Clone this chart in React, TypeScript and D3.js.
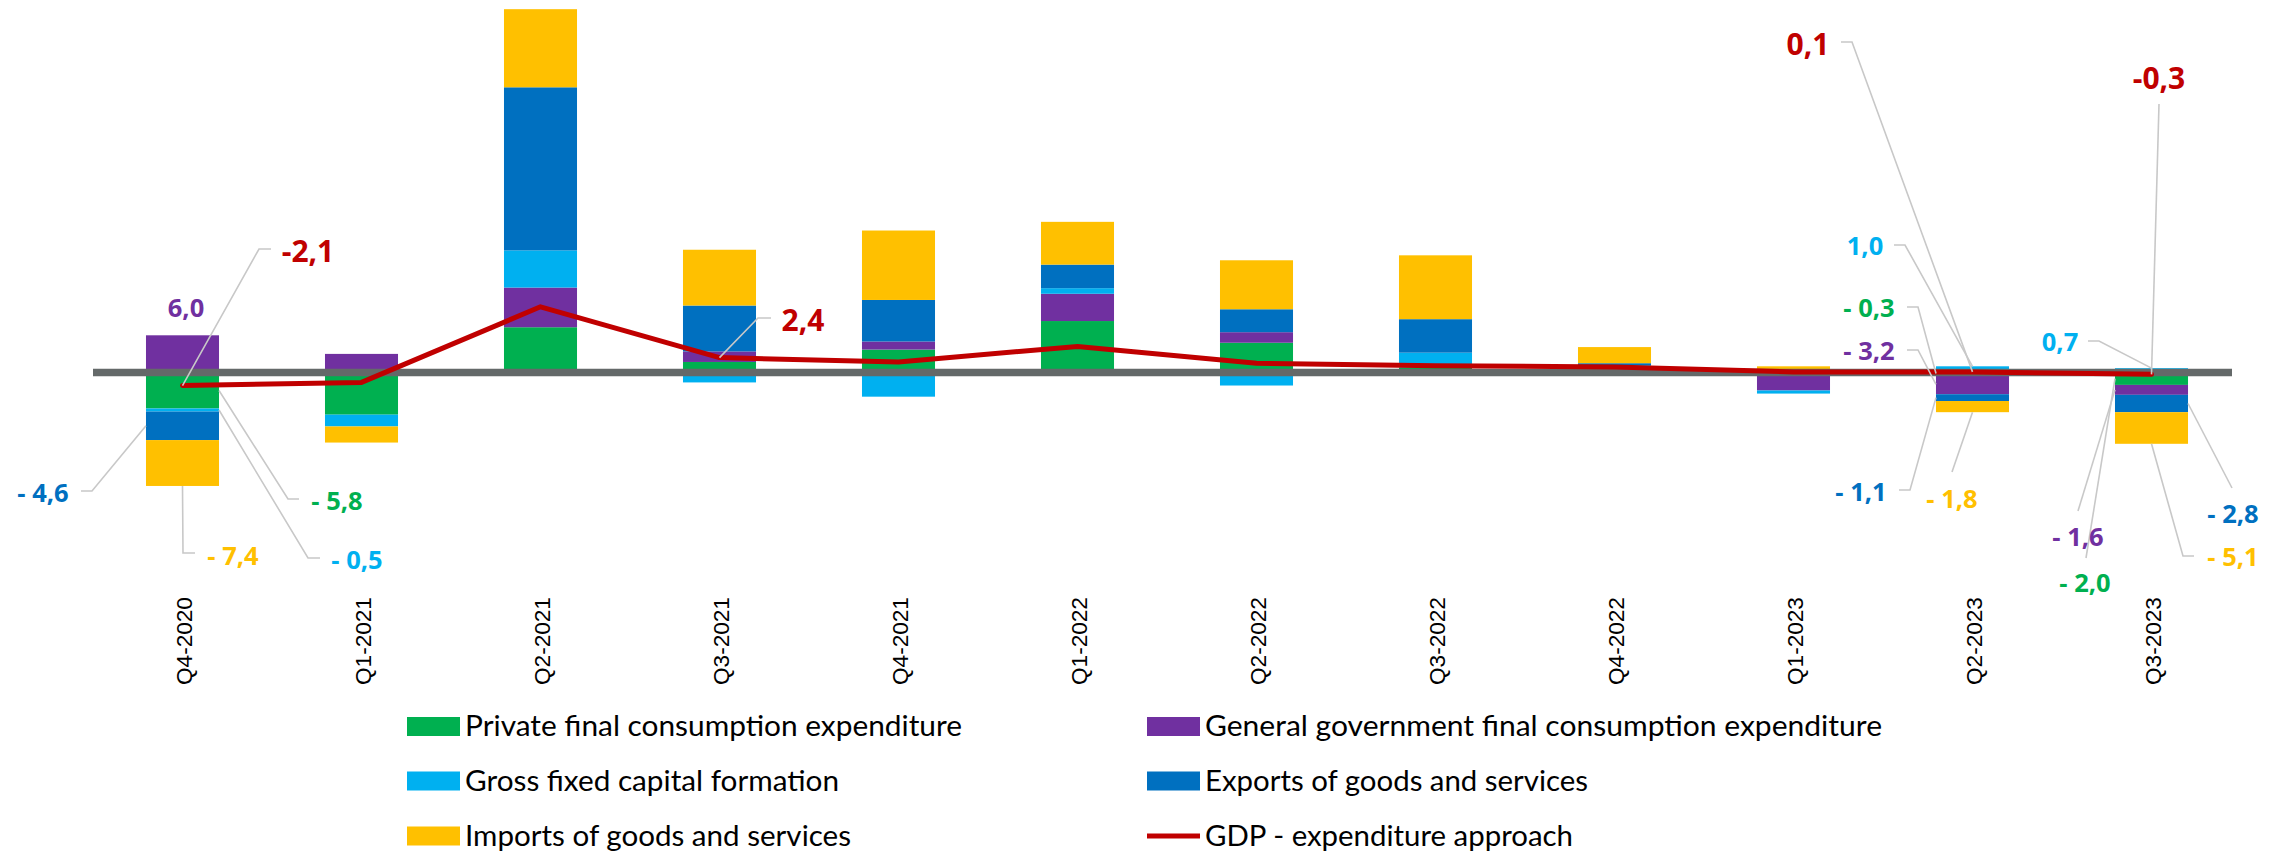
import * as d3 from 'd3'

const quarters = ['Q4-2020', 'Q1-2021', 'Q2-2021', 'Q3-2021', 'Q4-2021', 'Q1-2022', 'Q2-2022', 'Q3-2022', 'Q4-2022', 'Q1-2023', 'Q2-2023', 'Q3-2023']

// contributions
const privateConsumption = [-5.8, -6.8, 7.3, 1.7, 3.7, 8.3, 4.8, 0.8, 0.9, 0.0, -0.3, -2.0]
const governmentConsumption = [6.0, 3.0, 6.4, 1.7, 1.3, 4.4, 1.7, 0.0, 0.1, -2.9, -3.2, -1.6]
const capitalFormation = [-0.5, -1.9, 6.0, -1.6, -3.9, 0.9, -2.1, 2.4, 0.2, -0.5, 1.0, 0.7]
const exportsGS = [-4.6, 0.0, 26.3, 7.4, 6.7, 3.8, 3.7, 5.4, 0.3, 0.0, -1.1, -2.8]
const importsGS = [-7.4, -2.6, 12.6, 9.0, 11.2, 6.9, 7.9, 10.3, 2.6, 1.0, -1.8, -5.1]
const gdp = [-2.1, -1.6, 10.6, 2.4, 1.7, 4.2, 1.5, 1.1, 0.9, 0.1, 0.1, -0.3]

const seriesKeys = ['private', 'government', 'gfcf', 'exports', 'imports']
const seriesNames = [
  'Private final consumption expenditure',
  'General government final consumption expenditure',
  'Gross fixed capital formation',
  'Exports of goods and services',
  'Imports of goods and services',
]
const seriesColors = ['#00B050', '#7030A0', '#00B0F0', '#0070C0', '#FFC000']
const gdpName = 'GDP - expenditure approach'
const gdpColor = '#C00000'

type Spot = {
  key: string
  i: number
  x: number
  y: number
  at: 'left' | 'right' | 'top' | 'bottom' | 'point' | 'none'
  elbow?: [number, number]
  tail?: [number, number]
}

// where the data labels sit (layout only)
const spots: Spot[] = [
  { key: 'gdp', i: 0, x: 308, y: 251, at: 'point', elbow: [259, 249], tail: [271, 249] },
  { key: 'government', i: 0, x: 186, y: 308, at: 'none' },
  { key: 'exports', i: 0, x: 43, y: 493, at: 'left', elbow: [92, 491], tail: [81, 491] },
  { key: 'private', i: 0, x: 337, y: 501, at: 'right', elbow: [288, 499], tail: [299, 499] },
  { key: 'imports', i: 0, x: 233, y: 556, at: 'bottom', elbow: [183, 553], tail: [195, 553] },
  { key: 'gfcf', i: 0, x: 357, y: 560, at: 'right', elbow: [308, 558], tail: [320, 558] },
  { key: 'gdp', i: 3, x: 803, y: 320, at: 'point', elbow: [758, 318], tail: [771, 318] },
  { key: 'gdp', i: 10, x: 1808, y: 44, at: 'point', elbow: [1852, 42], tail: [1841, 42] },
  { key: 'gfcf', i: 10, x: 1865, y: 246, at: 'top', elbow: [1905, 245], tail: [1894, 245] },
  { key: 'private', i: 10, x: 1869, y: 308, at: 'left', elbow: [1918, 307], tail: [1907, 307] },
  { key: 'government', i: 10, x: 1869, y: 351, at: 'left', elbow: [1918, 350], tail: [1907, 350] },
  { key: 'exports', i: 10, x: 1861, y: 492, at: 'left', elbow: [1910, 490], tail: [1899, 490] },
  { key: 'imports', i: 10, x: 1952, y: 499, at: 'bottom', tail: [1952, 472] },
  { key: 'gfcf', i: 11, x: 2060, y: 342, at: 'top', elbow: [2099, 341], tail: [2088, 341] },
  { key: 'gdp', i: 11, x: 2159, y: 78, at: 'point', tail: [2159, 104] },
  { key: 'exports', i: 11, x: 2233, y: 514, at: 'right', tail: [2232, 488] },
  { key: 'imports', i: 11, x: 2233, y: 557, at: 'bottom', elbow: [2183, 556], tail: [2194, 556] },
  { key: 'government', i: 11, x: 2078, y: 537, at: 'left', tail: [2078, 511] },
  { key: 'private', i: 11, x: 2085, y: 583, at: 'left', tail: [2086, 558] },
]

const legendWidths = [497, 677, 374, 383, 386, 368]

const fmt = (v: number) => d3.format('.1f')(Math.abs(v)).replace('.', ',')

export default function App() {
  const W = 2284
  const H = 852
  const zeroY = 372.5
  const pxPerUnit = 6.2

  const rows = quarters.map((q, i) => ({
    q,
    private: privateConsumption[i],
    government: governmentConsumption[i],
    gfcf: capitalFormation[i],
    exports: exportsGS[i],
    imports: importsGS[i],
  }))

  const x = d3.scaleBand<string>().domain(quarters).range([93, 2241]).paddingInner(0.592).paddingOuter(0.296)
  const y = d3.scaleLinear().domain([0, 60]).range([zeroY, zeroY - 60 * pxPerUnit])
  const bw = x.bandwidth()
  const cx = (i: number) => (x(quarters[i]) ?? 0) + bw / 2

  const stacked = d3
    .stack<any>()
    .keys(seriesKeys)
    .offset(d3.stackOffsetDiverging)(rows)

  const line = d3
    .line<number>()
    .x((_, i) => cx(i))
    .y((d) => y(d))

  const anchorOf = (s: Spot): [number, number] => {
    if (s.key === 'gdp') return [cx(s.i), y(gdp[s.i])]
    const seg = stacked[seriesKeys.indexOf(s.key)][s.i]
    const x0 = x(quarters[s.i]) ?? 0
    const mid = (y(seg[0]) + y(seg[1])) / 2
    if (s.at === 'left') return [x0, mid]
    if (s.at === 'right') return [x0 + bw, mid]
    if (s.at === 'top') return [cx(s.i), y(seg[1])]
    return [cx(s.i), y(seg[0])]
  }

  const valueOf = (s: Spot) => {
    if (s.key === 'gdp') return gdp[s.i]
    return rows[s.i][s.key as 'private']
  }

  const legendItems = [...seriesNames.map((n, k) => ({ name: n, color: seriesColors[k], isLine: false })), { name: gdpName, color: gdpColor, isLine: true }]
  const legendCols = [407, 1147]
  const legendRows = [726.5, 781, 836]

  return (
    <svg width={W} height={H} style={{ position: 'absolute', left: 0, top: 0, background: '#fff' }}>
      <rect width={W} height={H} fill="#fff" />
      {stacked.map((s, k) => (
        <g key={s.key} fill={seriesColors[k]}>
          {s.map((d, i) => (
            <rect key={i} x={x(quarters[i])} y={y(d[1])} width={bw} height={Math.max(0, y(d[0]) - y(d[1]))} />
          ))}
        </g>
      ))}
      <line x1={93} x2={2232} y1={zeroY} y2={zeroY} stroke="#646969" strokeWidth={7.5} />
      <path d={line(gdp) ?? undefined} fill="none" stroke={gdpColor} strokeWidth={5} strokeLinejoin="round" strokeLinecap="round" />

      {spots.map((s, j) => {
        if (s.at === 'none' || !s.tail) return null
        const pts: [number, number][] = [anchorOf(s)]
        if (s.elbow) pts.push(s.elbow)
        pts.push(s.tail)
        return <polyline key={'l' + j} points={pts.map((p) => p.join(',')).join(' ')} fill="none" stroke="#C8C8C8" strokeWidth={1.6} />
      })}

      {spots.map((s, j) => {
        const v = valueOf(s)
        const isGdp = s.key === 'gdp'
        const text = isGdp ? (v < 0 ? '-' : '') + fmt(v) : (v < 0 ? '- ' : '') + fmt(v)
        const color = isGdp ? gdpColor : seriesColors[seriesKeys.indexOf(s.key)]
        return (
          <text
            key={'t' + j}
            x={s.x}
            y={s.y}
            textAnchor="middle"
            dy="0.36em"
            fill={color}
            fontFamily="'Open Sans', sans-serif"
            fontWeight={700}
            fontSize={isGdp ? 30 : 25.5}
          >
            {text}
          </text>
        )
      })}

      {quarters.map((q, i) => (
        <text
          key={q}
          transform={`translate(${cx(i) + 1},685) rotate(-90)`}
          textAnchor="start"
          dy="0.36em"
          fontFamily="'Liberation Sans', Arial, sans-serif"
          fontSize={22.6}
          fill="#000"
        >
          {q}
        </text>
      ))}

      {legendItems.map((it, k) => {
        const lx = legendCols[k % 2]
        const ly = legendRows[Math.floor(k / 2)]
        return (
          <g key={it.name}>
            {it.isLine ? (
              <line x1={lx} x2={lx + 53} y1={ly} y2={ly} stroke={it.color} strokeWidth={5} />
            ) : (
              <rect x={lx} y={ly - 9.5} width={53} height={19} fill={it.color} />
            )}
            <text
              x={lx + 58}
              y={ly}
              dy="0.35em"
              fontFamily="Lato, 'Open Sans', sans-serif"
              fontSize={28}
              fill="#000"
              textLength={legendWidths[k]}
              lengthAdjust="spacingAndGlyphs"
            >
              {it.name}
            </text>
          </g>
        )
      })}
    </svg>
  )
}
